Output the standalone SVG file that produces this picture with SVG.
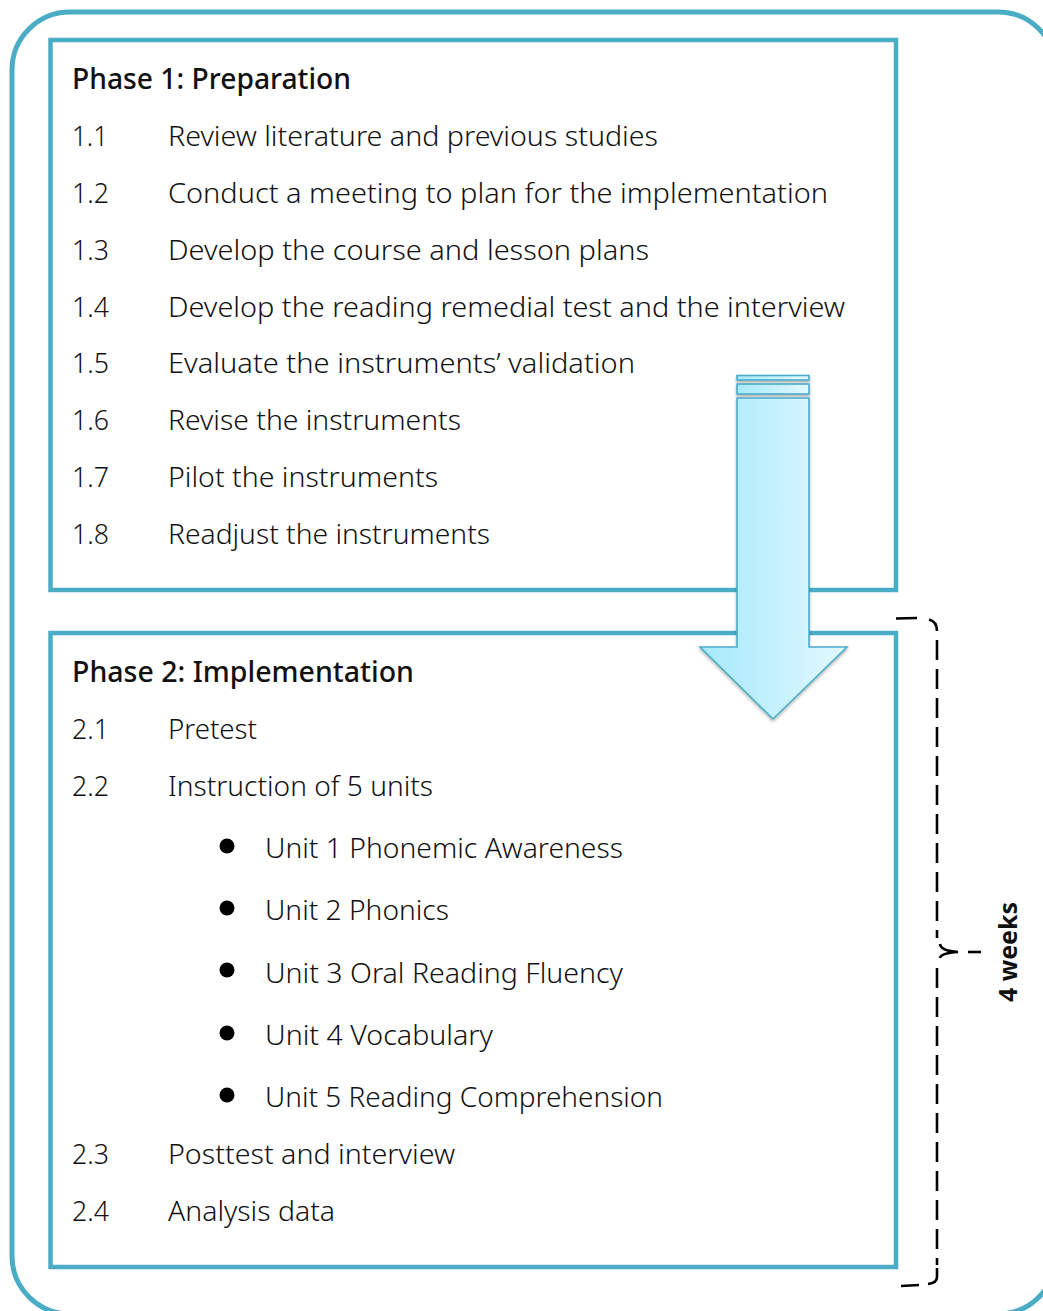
<svg xmlns="http://www.w3.org/2000/svg" width="1043" height="1311" viewBox="0 0 1043 1311">
<defs>
<style>
.frame{fill:none;stroke:#4BACC6;stroke-width:5}
.box{fill:#FFFFFF;stroke:#4BACC6;stroke-width:4.5}
text{font-family:"Noto Sans","Open Sans","DejaVu Sans",sans-serif;fill:#111111}
.t{font-size:28px;font-weight:300}
.h{font-size:28px;font-weight:500}
.w{font-size:25px;font-weight:700}
.brace{fill:none;stroke:#000000;stroke-width:2.6;stroke-linecap:butt}
.dash{stroke-dasharray:20 9}
</style>
<linearGradient id="arrowGrad" x1="0" y1="0" x2="1" y2="0">
<stop offset="0" stop-color="#A6E9FC"/>
<stop offset="0.5" stop-color="#C4F1FD"/>
<stop offset="1" stop-color="#E4F9FF"/>
</linearGradient>
<filter id="shadow" x="-20%" y="-10%" width="140%" height="130%">
<feDropShadow dx="0" dy="2" stdDeviation="1.6" flood-color="#000000" flood-opacity="0.3"/>
</filter>
</defs>
<rect width="1043" height="1311" fill="#FFFFFF"/>
<g id="frame">
<rect class="frame" x="12" y="12" width="1044" height="1302" rx="58" ry="58"/>
</g>
<g id="phase1">
<rect class="box" x="50.5" y="40" width="845.5" height="550"/>
<text class="h" x="72" y="89" textLength="279" lengthAdjust="spacingAndGlyphs">Phase 1: Preparation</text>
<text class="t" x="72" y="146" textLength="36" lengthAdjust="spacingAndGlyphs">1.1</text>
<text class="t" x="168" y="146" textLength="490" lengthAdjust="spacingAndGlyphs">Review literature and previous studies</text>
<text class="t" x="72" y="203" textLength="37" lengthAdjust="spacingAndGlyphs">1.2</text>
<text class="t" x="168" y="203" textLength="660" lengthAdjust="spacingAndGlyphs">Conduct a meeting to plan for the implementation</text>
<text class="t" x="72" y="260" textLength="37" lengthAdjust="spacingAndGlyphs">1.3</text>
<text class="t" x="168" y="260" textLength="481" lengthAdjust="spacingAndGlyphs">Develop the course and lesson plans</text>
<text class="t" x="72" y="317" textLength="37" lengthAdjust="spacingAndGlyphs">1.4</text>
<text class="t" x="168" y="317" textLength="677" lengthAdjust="spacingAndGlyphs">Develop the reading remedial test and the interview</text>
<text class="t" x="72" y="373" textLength="37" lengthAdjust="spacingAndGlyphs">1.5</text>
<text class="t" x="168" y="373" textLength="467" lengthAdjust="spacingAndGlyphs">Evaluate the instruments’ validation</text>
<text class="t" x="72" y="430" textLength="37" lengthAdjust="spacingAndGlyphs">1.6</text>
<text class="t" x="168" y="430" textLength="293" lengthAdjust="spacingAndGlyphs">Revise the instruments</text>
<text class="t" x="72" y="487" textLength="37" lengthAdjust="spacingAndGlyphs">1.7</text>
<text class="t" x="168" y="487" textLength="270" lengthAdjust="spacingAndGlyphs">Pilot the instruments</text>
<text class="t" x="72" y="544" textLength="37" lengthAdjust="spacingAndGlyphs">1.8</text>
<text class="t" x="168" y="544" textLength="322" lengthAdjust="spacingAndGlyphs">Readjust the instruments</text>
</g>
<g id="phase2">
<rect class="box" x="50.5" y="633" width="845.5" height="634"/>
<text class="h" x="72" y="682" textLength="342" lengthAdjust="spacingAndGlyphs">Phase 2: Implementation</text>
<text class="t" x="72" y="739" textLength="37" lengthAdjust="spacingAndGlyphs">2.1</text>
<text class="t" x="168" y="739" textLength="89" lengthAdjust="spacingAndGlyphs">Pretest</text>
<text class="t" x="72" y="796" textLength="37" lengthAdjust="spacingAndGlyphs">2.2</text>
<text class="t" x="168" y="796" textLength="265" lengthAdjust="spacingAndGlyphs">Instruction of 5 units</text>
<circle cx="227" cy="846" r="7.5" fill="#000000"/>
<text class="t" x="265" y="858" textLength="358" lengthAdjust="spacingAndGlyphs">Unit 1 Phonemic Awareness</text>
<circle cx="227" cy="908" r="7.5" fill="#000000"/>
<text class="t" x="265" y="920" textLength="184" lengthAdjust="spacingAndGlyphs">Unit 2 Phonics</text>
<circle cx="227" cy="970" r="7.5" fill="#000000"/>
<text class="t" x="265" y="983" textLength="358" lengthAdjust="spacingAndGlyphs">Unit 3 Oral Reading Fluency</text>
<circle cx="227" cy="1033" r="7.5" fill="#000000"/>
<text class="t" x="265" y="1045" textLength="228" lengthAdjust="spacingAndGlyphs">Unit 4 Vocabulary</text>
<circle cx="227" cy="1095" r="7.5" fill="#000000"/>
<text class="t" x="265" y="1107" textLength="398" lengthAdjust="spacingAndGlyphs">Unit 5 Reading Comprehension</text>
<text class="t" x="72" y="1164" textLength="37" lengthAdjust="spacingAndGlyphs">2.3</text>
<text class="t" x="168" y="1164" textLength="287" lengthAdjust="spacingAndGlyphs">Posttest and interview</text>
<text class="t" x="72" y="1221" textLength="37" lengthAdjust="spacingAndGlyphs">2.4</text>
<text class="t" x="168" y="1221" textLength="167" lengthAdjust="spacingAndGlyphs">Analysis data</text>
</g>
<g id="connectors">
<g id="arrow" filter="url(#shadow)" fill="url(#arrowGrad)" stroke="#4BACC6" stroke-width="1.6" stroke-linejoin="miter">
<rect x="737" y="375.5" width="72" height="4.5"/>
<rect x="737" y="384" width="72" height="10"/>
<path d="M737 398 H809 V647 H847 L773 719 L700 647 H737 Z"/>
</g>
<g id="bracket" class="brace">
<path d="M896 618.5 L917 618"/>
<path d="M929 619.5 Q937 621.5 937 631"/>
<path class="dash" d="M937 640 V938"/>
<path d="M940 944 Q941 951 958 952 Q941 953 940 958"/>
<path d="M968 952 L981 952"/>
<path class="dash" d="M937 968 V1265"/>
<path d="M937 1268 V1277 Q937 1283 928 1284"/>
<path d="M919 1285 L901 1286"/>
</g>
</g>
<g id="label">
<text class="w" transform="translate(1017 952) rotate(-90)" text-anchor="middle">4 weeks</text>
</g>
</svg>
